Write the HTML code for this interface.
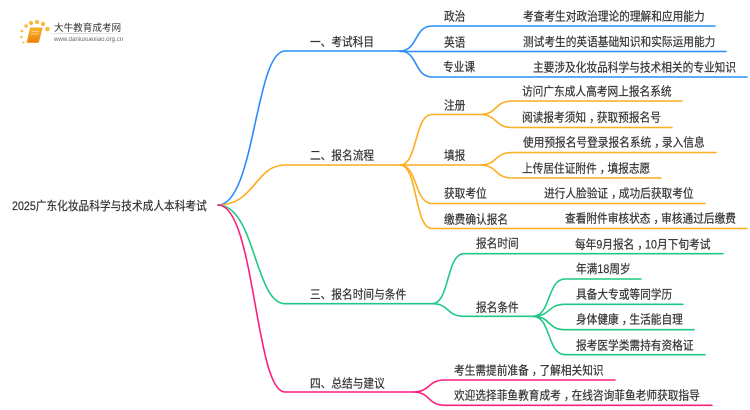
<!DOCTYPE html>
<html lang="zh">
<head>
<meta charset="utf-8">
<style>
html,body{margin:0;padding:0;background:#fff;}
svg{display:block;}
text{font-family:"Liberation Sans","Noto Sans CJK SC",sans-serif;font-size:10.7px;fill:#333;stroke:#333;stroke-width:.18px;transform-box:fill-box;transform-origin:center;transform:scaleY(1.1);}
text.lg{stroke:none;transform:none;}
path{fill:none;stroke-linecap:round;}
</style>
</head>
<body>
<svg width="750" height="410" viewBox="0 0 750 410" xmlns="http://www.w3.org/2000/svg">
<defs>
<linearGradient id="lg" x1="0" x2="1" y1="0" y2="0"><stop offset="0" stop-color="#ccc" stop-opacity="0"/><stop offset=".3" stop-color="#ccc"/><stop offset="1" stop-color="#ccc" stop-opacity="0"/></linearGradient>
<linearGradient id="bk" x1="0" x2="0" y1="0" y2="1"><stop offset="0" stop-color="#fbb62a"/><stop offset="1" stop-color="#ee7d11"/></linearGradient>
</defs>
<!-- logo -->
<g fill="#fab93a">
<circle cx="22" cy="31" r="1.3"/><circle cx="26" cy="26" r="1.7"/><circle cx="31" cy="23" r="2.1"/><circle cx="37" cy="22" r="2.1"/><circle cx="43" cy="24" r="2.2"/><circle cx="47.500" cy="29" r="2.3"/><circle cx="21.500" cy="37" r="1.2"/><circle cx="23.500" cy="42.500" r="1"/>
</g>
<path d="M30.500 28H42L38.500 42.500H27Z" style="fill:url(#bk);stroke:#f09a1c;stroke-width:.8;stroke-linejoin:round"/>
<path d="M32 31.500H38.500M31.500 34H38" style="stroke:#fde3a8;stroke-width:.7"/>
<rect x="45" y="33" width="88" height="1" fill="url(#lg)"/>
<text class="lg" x="54" y="31" style="font-size:9.6px;fill:#333">大牛教育成考网</text>
<text class="lg" x="54" y="41" style="font-size:6.1px;fill:#666">www.daniuxuexiao.org.cn</text>

<!-- blue -->
<g style="stroke:#2b8dfb;stroke-width:1.6">
<path d="M218 205C255 205 255 51 285 51H400"/>
<path d="M400 51C418 51 414 26 432 26H715"/>
<path d="M400 51.500H726"/>
<path d="M400 51C418 51 414 77 432 77H747"/>
</g>
<!-- orange -->
<g style="stroke:#fcae21;stroke-width:1.6">
<path d="M218 205C255 205 255 165 285 165H400"/>
<path d="M400 165C418 165 414 114.500 432 114.500H480"/>
<path d="M480 114.500C498 114.500 494 101 512 101H682"/>
<path d="M480 114.500C498 114.500 494 127.500 512 127.500H672"/>
<path d="M400 165H480"/>
<path d="M480 165C498 165 494 152.500 512 152.500H716"/>
<path d="M480 165C498 165 494 178 512 178H661"/>
<path d="M400 165C418 165 414 203.500 432 203.500H705"/>
<path d="M400 165C418 165 414 228.500 432 228.500H747"/>
</g>
<!-- green -->
<g style="stroke:#1fc884;stroke-width:1.6">
<path d="M218 205C255 205 255 303.700 285 303.700H432"/>
<path d="M432 303.700C450 303.700 446 253.700 464 253.700H723"/>
<path d="M432 303.700C450 303.700 446 316.300 464 316.300H533"/>
<path d="M533 316.300C551 316.300 547 279 565 279H641"/>
<path d="M533 316.300C551 316.300 547 304.300 565 304.300H683"/>
<path d="M533 316.300C551 316.300 547 329.700 565 329.700H694"/>
<path d="M533 316.300C551 316.300 547 354.700 565 354.700H705"/>
</g>
<!-- pink -->
<g style="stroke:#fb1f7f;stroke-width:1.6">
<path d="M218 205C255 205 255 392 285 392H413"/>
<path d="M413 392C431 392 427 380 445 380H615"/>
<path d="M413 392C431 392 427 405.300 445 405.300H712"/>
</g>

<!-- labels -->
<text x="12" y="209.500">2025广东化妆品科学与技术成人本科考试</text>
<text x="310" y="45.500">一、考试科目</text>
<text x="310" y="159">二、报名流程</text>
<text x="310" y="298">三、报名时间与条件</text>
<text x="310" y="387">四、总结与建议</text>

<text x="444" y="20">政治</text>
<text x="444" y="46">英语</text>
<text x="443" y="70.500">专业课</text>
<text x="444" y="109">注册</text>
<text x="444" y="159">填报</text>
<text x="444" y="197">获取考位</text>
<text x="444" y="223">缴费确认报名</text>
<text x="476" y="247">报名时间</text>
<text x="476" y="311">报名条件</text>

<text x="523" y="20">考查考生对政治理论的理解和应用能力</text>
<text x="523" y="45.500">测试考生的英语基础知识和实际运用能力</text>
<text x="533" y="71">主要涉及化妆品科学与技术相关的专业知识</text>
<text x="522" y="95">访问广东成人高考网上报名系统</text>
<text x="522" y="121">阅读报考须知<tspan dx="3">，</tspan><tspan dx="-3">获取预报名号</tspan></text>
<text x="523" y="146">使用预报名号登录报名系统<tspan dx="3">，</tspan><tspan dx="-3">录入信息</tspan></text>
<text x="522" y="172">上传居住证附件<tspan dx="3">，</tspan><tspan dx="-3">填报志愿</tspan></text>
<text x="544" y="197">进行人脸验证<tspan dx="3">，</tspan><tspan dx="-3">成功后获取考位</tspan></text>
<text x="565" y="222">查看附件审核状态<tspan dx="3">，</tspan><tspan dx="-3">审核通过后缴费</tspan></text>
<text x="575" y="248">每年9月报名<tspan dx="3">，</tspan><tspan dx="-3">10月下旬考试</tspan></text>
<text x="576" y="272.500">年满18周岁</text>
<text x="576" y="298">具备大专或等同学历</text>
<text x="576" y="323">身体健康<tspan dx="3">，</tspan><tspan dx="-3">生活能自理</tspan></text>
<text x="576" y="349">报考医学类需持有资格证</text>
<text x="454" y="374">考生需提前准备<tspan dx="3">，</tspan><tspan dx="-3">了解相关知识</tspan></text>
<text x="454" y="399">欢迎选择菲鱼教育成考<tspan dx="3">，</tspan><tspan dx="-3">在线咨询菲鱼老师获取指导</tspan></text>
</svg>
</body>
</html>
